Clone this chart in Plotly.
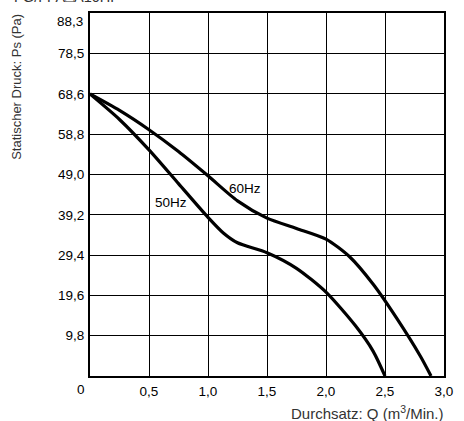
import plotly.graph_objects as go

# Data
q_60 = [0, 0.25, 0.5, 0.75, 1.0, 1.25, 1.5, 1.75, 2.0, 2.2, 2.4, 2.6, 2.8, 2.89]
ps_60 = [68.6, 64.6, 59.9, 54.6, 48.7, 42.6, 38.4, 35.9, 33.3, 29.0, 22.3, 14.0, 4.8, 0]
q_50 = [0, 0.25, 0.5, 0.75, 1.0, 1.13, 1.25, 1.5, 1.75, 2.0, 2.25, 2.4, 2.5]
ps_50 = [68.6, 62.4, 55.0, 46.8, 38.6, 34.8, 32.4, 30.0, 26.2, 20.4, 12.2, 6.0, 0]

x_ticks = [0.5, 1.0, 1.5, 2.0, 2.5, 3.0]
x_ticktext = ["0,5", "1,0", "1,5", "2,0", "2,5", "3,0"]
y_ticks = [9.8, 19.6, 29.4, 39.2, 49.0, 58.8, 68.6, 78.5]
y_ticktext = ["9,8", "19,6", "29,4", "39,2", "49,0", "58,8", "68,6", "78,5"]
y_top = 88.3
y_top_text = "88,3"
series_labels = ["60Hz", "50Hz"]
label_pos = [(1.31, 45.7), (0.686, 42.3)]

FONT = "Liberation Sans, Arial, Helvetica, sans-serif"

fig = go.Figure()
for xs, ys in [(q_60, ps_60), (q_50, ps_50)]:
    fig.add_trace(go.Scatter(x=xs, y=ys, mode="lines",
                             line=dict(color="black", width=3.2, shape="spline", smoothing=0.7),
                             showlegend=False, hoverinfo="skip"))

axis_common = dict(showgrid=True, gridcolor="black", gridwidth=1.4,
                   showline=True, linecolor="black", linewidth=2, mirror=True,
                   zeroline=False, ticks="", tickfont=dict(family=FONT, size=13.5, color="black"))

fig.update_xaxes(range=[0, 3.0], tickvals=x_ticks, ticktext=x_ticktext,
                 ticklabelstandoff=2, **axis_common)
fig.update_yaxes(range=[0, y_top], tickvals=y_ticks, ticktext=y_ticktext,
                 ticklabelstandoff=1, **axis_common)

annotations = []
for txt, (ax, ay) in zip(series_labels, label_pos):
    annotations.append(dict(x=ax, y=ay, text=txt, showarrow=False, xref="x", yref="y",
                            font=dict(family=FONT, size=13.5, color="black")))
# top y label and origin label
annotations.append(dict(x=0, y=y_top, text=y_top_text, showarrow=False, xref="x", yref="y",
                        xanchor="right", yanchor="middle", xshift=-5, yshift=-8,
                        font=dict(family=FONT, size=13.5, color="black")))
annotations.append(dict(x=0, y=0, text="0", showarrow=False, xref="x", yref="y",
                        xanchor="center", yanchor="middle", xshift=-9, yshift=-13,
                        font=dict(family=FONT, size=13.5, color="black")))
# axis titles
annotations.append(dict(x=(15 - 90) / 363, y=(376 - 87) / 363, xref="paper", yref="paper",
                        text="Statischer Druck: Ps (Pa)", showarrow=False, textangle=-90,
                        xanchor="center", yanchor="middle",
                        font=dict(family=FONT, size=13, color="#333333")))
annotations.append(dict(x=(455 - 90) / 363, y=(376 - 412) / 363, xref="paper", yref="paper",
                        text="Durchsatz: Q (m<sup>3</sup>/Min.)", showarrow=False,
                        xanchor="right", yanchor="middle",
                        font=dict(family=FONT, size=15, color="#333333")))
# cropped header text at the very top (box bottom at window y ~ 7)
annotations.append(dict(x=(10 - 90) / 363, y=(376 - 7) / 363, xref="paper", yref="paper",
                        text="FG/FPA□A10HP", showarrow=False,
                        xanchor="left", yanchor="bottom",
                        font=dict(family=FONT, size=14.5, color="#333333")))

fig.update_layout(width=464, height=421,
                  margin=dict(l=90, r=11, t=13, b=45),
                  paper_bgcolor="white", plot_bgcolor="white",
                  annotations=annotations)

fig.write_html("out.html", config={"displayModeBar": False},
               post_script="document.body.style.margin='0';document.body.style.overflow='hidden';")
